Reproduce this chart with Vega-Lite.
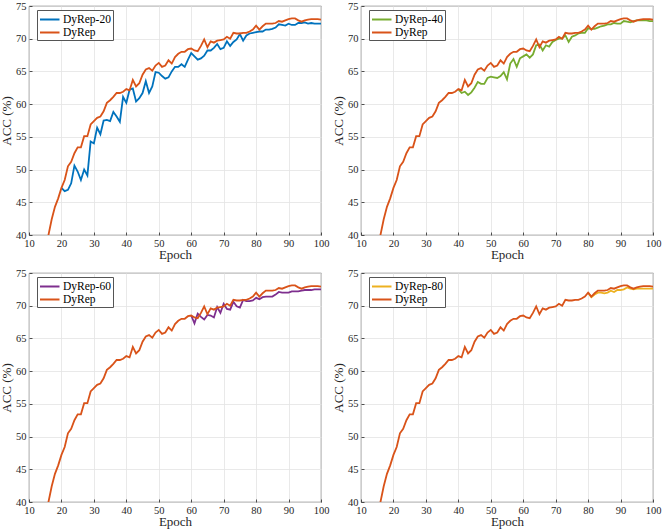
{
  "$schema": "https://vega.github.io/schema/vega-lite/v6.json",
  "padding": {"left": 0, "top": 0, "right": 0, "bottom": 0},
  "datasets": {
    "acc": [
      {"epoch": 15, "acc": 37.6, "series": "DyRep"}, {"epoch": 16, "acc": 40.0, "series": "DyRep"},
      {"epoch": 17, "acc": 42.4, "series": "DyRep"}, {"epoch": 18, "acc": 44.3, "series": "DyRep"},
      {"epoch": 19, "acc": 45.6, "series": "DyRep"}, {"epoch": 20, "acc": 47.2, "series": "DyRep"},
      {"epoch": 21, "acc": 48.4, "series": "DyRep"}, {"epoch": 22, "acc": 50.5, "series": "DyRep"},
      {"epoch": 23, "acc": 51.2, "series": "DyRep"}, {"epoch": 24, "acc": 52.5, "series": "DyRep"},
      {"epoch": 25, "acc": 53.4, "series": "DyRep"}, {"epoch": 26, "acc": 53.4, "series": "DyRep"},
      {"epoch": 27, "acc": 55.1, "series": "DyRep"}, {"epoch": 28, "acc": 55.1, "series": "DyRep"},
      {"epoch": 29, "acc": 56.9, "series": "DyRep"}, {"epoch": 30, "acc": 57.4, "series": "DyRep"},
      {"epoch": 31, "acc": 57.9, "series": "DyRep"}, {"epoch": 32, "acc": 58.1, "series": "DyRep"},
      {"epoch": 33, "acc": 58.9, "series": "DyRep"}, {"epoch": 34, "acc": 60.2, "series": "DyRep"},
      {"epoch": 35, "acc": 60.6, "series": "DyRep"}, {"epoch": 36, "acc": 61.1, "series": "DyRep"},
      {"epoch": 37, "acc": 61.7, "series": "DyRep"}, {"epoch": 38, "acc": 61.7, "series": "DyRep"},
      {"epoch": 39, "acc": 61.9, "series": "DyRep"}, {"epoch": 40, "acc": 62.3, "series": "DyRep"},
      {"epoch": 41, "acc": 62.1, "series": "DyRep"}, {"epoch": 42, "acc": 63.7, "series": "DyRep"},
      {"epoch": 43, "acc": 62.7, "series": "DyRep"}, {"epoch": 44, "acc": 63.2, "series": "DyRep"},
      {"epoch": 45, "acc": 64.5, "series": "DyRep"}, {"epoch": 46, "acc": 65.3, "series": "DyRep"},
      {"epoch": 47, "acc": 65.5, "series": "DyRep"}, {"epoch": 48, "acc": 65.1, "series": "DyRep"},
      {"epoch": 49, "acc": 65.9, "series": "DyRep"}, {"epoch": 50, "acc": 66.3, "series": "DyRep"},
      {"epoch": 51, "acc": 65.7, "series": "DyRep"}, {"epoch": 52, "acc": 65.9, "series": "DyRep"},
      {"epoch": 53, "acc": 66.7, "series": "DyRep"}, {"epoch": 54, "acc": 66.2, "series": "DyRep"},
      {"epoch": 55, "acc": 67.2, "series": "DyRep"}, {"epoch": 56, "acc": 67.7, "series": "DyRep"},
      {"epoch": 57, "acc": 68.0, "series": "DyRep"}, {"epoch": 58, "acc": 68.0, "series": "DyRep"},
      {"epoch": 59, "acc": 68.4, "series": "DyRep"}, {"epoch": 60, "acc": 68.5, "series": "DyRep"},
      {"epoch": 61, "acc": 68.2, "series": "DyRep"}, {"epoch": 62, "acc": 68.1, "series": "DyRep"},
      {"epoch": 63, "acc": 68.9, "series": "DyRep"}, {"epoch": 64, "acc": 69.9, "series": "DyRep"},
      {"epoch": 65, "acc": 68.7, "series": "DyRep"}, {"epoch": 66, "acc": 69.6, "series": "DyRep"},
      {"epoch": 67, "acc": 69.4, "series": "DyRep"}, {"epoch": 68, "acc": 69.7, "series": "DyRep"},
      {"epoch": 69, "acc": 69.8, "series": "DyRep"}, {"epoch": 70, "acc": 69.9, "series": "DyRep"},
      {"epoch": 71, "acc": 70.3, "series": "DyRep"}, {"epoch": 72, "acc": 70.0, "series": "DyRep"},
      {"epoch": 73, "acc": 70.9, "series": "DyRep"}, {"epoch": 74, "acc": 70.8, "series": "DyRep"},
      {"epoch": 75, "acc": 70.8, "series": "DyRep"}, {"epoch": 76, "acc": 70.9, "series": "DyRep"},
      {"epoch": 77, "acc": 70.9, "series": "DyRep"}, {"epoch": 78, "acc": 71.1, "series": "DyRep"},
      {"epoch": 79, "acc": 71.4, "series": "DyRep"}, {"epoch": 80, "acc": 72.0, "series": "DyRep"},
      {"epoch": 81, "acc": 71.4, "series": "DyRep"}, {"epoch": 82, "acc": 71.9, "series": "DyRep"},
      {"epoch": 83, "acc": 72.3, "series": "DyRep"}, {"epoch": 84, "acc": 72.3, "series": "DyRep"},
      {"epoch": 85, "acc": 72.3, "series": "DyRep"}, {"epoch": 86, "acc": 72.4, "series": "DyRep"},
      {"epoch": 87, "acc": 72.7, "series": "DyRep"}, {"epoch": 88, "acc": 72.6, "series": "DyRep"},
      {"epoch": 89, "acc": 72.8, "series": "DyRep"}, {"epoch": 90, "acc": 73.0, "series": "DyRep"},
      {"epoch": 91, "acc": 73.1, "series": "DyRep"}, {"epoch": 92, "acc": 73.1, "series": "DyRep"},
      {"epoch": 93, "acc": 72.8, "series": "DyRep"}, {"epoch": 94, "acc": 72.6, "series": "DyRep"},
      {"epoch": 95, "acc": 72.8, "series": "DyRep"}, {"epoch": 96, "acc": 72.9, "series": "DyRep"},
      {"epoch": 97, "acc": 73.0, "series": "DyRep"}, {"epoch": 98, "acc": 73.0, "series": "DyRep"},
      {"epoch": 99, "acc": 73.0, "series": "DyRep"}, {"epoch": 100, "acc": 72.9, "series": "DyRep"},

      {"epoch": 20, "acc": 47.2, "series": "DyRep-20"}, {"epoch": 21, "acc": 46.7, "series": "DyRep-20"},
      {"epoch": 22, "acc": 46.9, "series": "DyRep-20"}, {"epoch": 23, "acc": 47.9, "series": "DyRep-20"},
      {"epoch": 24, "acc": 50.6, "series": "DyRep-20"}, {"epoch": 25, "acc": 49.7, "series": "DyRep-20"},
      {"epoch": 26, "acc": 48.4, "series": "DyRep-20"}, {"epoch": 27, "acc": 50.0, "series": "DyRep-20"},
      {"epoch": 28, "acc": 49.1, "series": "DyRep-20"}, {"epoch": 29, "acc": 54.3, "series": "DyRep-20"},
      {"epoch": 30, "acc": 54.0, "series": "DyRep-20"}, {"epoch": 31, "acc": 56.4, "series": "DyRep-20"},
      {"epoch": 32, "acc": 55.4, "series": "DyRep-20"}, {"epoch": 33, "acc": 57.5, "series": "DyRep-20"},
      {"epoch": 34, "acc": 57.6, "series": "DyRep-20"}, {"epoch": 35, "acc": 57.4, "series": "DyRep-20"},
      {"epoch": 36, "acc": 58.8, "series": "DyRep-20"}, {"epoch": 37, "acc": 58.1, "series": "DyRep-20"},
      {"epoch": 38, "acc": 57.3, "series": "DyRep-20"}, {"epoch": 39, "acc": 61.1, "series": "DyRep-20"},
      {"epoch": 40, "acc": 60.2, "series": "DyRep-20"}, {"epoch": 41, "acc": 62.2, "series": "DyRep-20"},
      {"epoch": 42, "acc": 62.4, "series": "DyRep-20"}, {"epoch": 43, "acc": 60.4, "series": "DyRep-20"},
      {"epoch": 44, "acc": 60.9, "series": "DyRep-20"}, {"epoch": 45, "acc": 61.7, "series": "DyRep-20"},
      {"epoch": 46, "acc": 63.5, "series": "DyRep-20"}, {"epoch": 47, "acc": 61.7, "series": "DyRep-20"},
      {"epoch": 48, "acc": 62.7, "series": "DyRep-20"}, {"epoch": 49, "acc": 64.9, "series": "DyRep-20"},
      {"epoch": 50, "acc": 64.8, "series": "DyRep-20"}, {"epoch": 51, "acc": 64.3, "series": "DyRep-20"},
      {"epoch": 52, "acc": 63.9, "series": "DyRep-20"}, {"epoch": 53, "acc": 64.1, "series": "DyRep-20"},
      {"epoch": 54, "acc": 65.0, "series": "DyRep-20"}, {"epoch": 55, "acc": 65.7, "series": "DyRep-20"},
      {"epoch": 56, "acc": 65.7, "series": "DyRep-20"}, {"epoch": 57, "acc": 66.1, "series": "DyRep-20"},
      {"epoch": 58, "acc": 65.7, "series": "DyRep-20"}, {"epoch": 59, "acc": 66.8, "series": "DyRep-20"},
      {"epoch": 60, "acc": 67.8, "series": "DyRep-20"}, {"epoch": 61, "acc": 67.3, "series": "DyRep-20"},
      {"epoch": 62, "acc": 66.8, "series": "DyRep-20"}, {"epoch": 63, "acc": 67.0, "series": "DyRep-20"},
      {"epoch": 64, "acc": 67.4, "series": "DyRep-20"}, {"epoch": 65, "acc": 68.2, "series": "DyRep-20"},
      {"epoch": 66, "acc": 68.2, "series": "DyRep-20"}, {"epoch": 67, "acc": 68.6, "series": "DyRep-20"},
      {"epoch": 68, "acc": 69.2, "series": "DyRep-20"}, {"epoch": 69, "acc": 68.4, "series": "DyRep-20"},
      {"epoch": 70, "acc": 68.6, "series": "DyRep-20"}, {"epoch": 71, "acc": 69.6, "series": "DyRep-20"},
      {"epoch": 72, "acc": 68.9, "series": "DyRep-20"}, {"epoch": 73, "acc": 69.5, "series": "DyRep-20"},
      {"epoch": 74, "acc": 69.9, "series": "DyRep-20"}, {"epoch": 75, "acc": 70.7, "series": "DyRep-20"},
      {"epoch": 76, "acc": 69.7, "series": "DyRep-20"}, {"epoch": 77, "acc": 70.5, "series": "DyRep-20"},
      {"epoch": 78, "acc": 70.8, "series": "DyRep-20"}, {"epoch": 79, "acc": 70.9, "series": "DyRep-20"},
      {"epoch": 80, "acc": 71.0, "series": "DyRep-20"}, {"epoch": 81, "acc": 71.1, "series": "DyRep-20"},
      {"epoch": 82, "acc": 71.1, "series": "DyRep-20"}, {"epoch": 83, "acc": 71.4, "series": "DyRep-20"},
      {"epoch": 84, "acc": 71.4, "series": "DyRep-20"}, {"epoch": 85, "acc": 71.5, "series": "DyRep-20"},
      {"epoch": 86, "acc": 71.7, "series": "DyRep-20"}, {"epoch": 87, "acc": 72.2, "series": "DyRep-20"},
      {"epoch": 88, "acc": 72.1, "series": "DyRep-20"}, {"epoch": 89, "acc": 72.0, "series": "DyRep-20"},
      {"epoch": 90, "acc": 72.3, "series": "DyRep-20"}, {"epoch": 91, "acc": 72.1, "series": "DyRep-20"},
      {"epoch": 92, "acc": 72.1, "series": "DyRep-20"}, {"epoch": 93, "acc": 72.4, "series": "DyRep-20"},
      {"epoch": 94, "acc": 72.4, "series": "DyRep-20"}, {"epoch": 95, "acc": 72.5, "series": "DyRep-20"},
      {"epoch": 96, "acc": 72.3, "series": "DyRep-20"}, {"epoch": 97, "acc": 72.4, "series": "DyRep-20"},
      {"epoch": 98, "acc": 72.3, "series": "DyRep-20"}, {"epoch": 99, "acc": 72.3, "series": "DyRep-20"},
      {"epoch": 100, "acc": 72.3, "series": "DyRep-20"},

      {"epoch": 40, "acc": 62.3, "series": "DyRep-40"}, {"epoch": 41, "acc": 61.7, "series": "DyRep-40"},
      {"epoch": 42, "acc": 61.9, "series": "DyRep-40"}, {"epoch": 43, "acc": 61.4, "series": "DyRep-40"},
      {"epoch": 44, "acc": 61.8, "series": "DyRep-40"}, {"epoch": 45, "acc": 62.5, "series": "DyRep-40"},
      {"epoch": 46, "acc": 63.4, "series": "DyRep-40"}, {"epoch": 47, "acc": 63.1, "series": "DyRep-40"},
      {"epoch": 48, "acc": 63.1, "series": "DyRep-40"}, {"epoch": 49, "acc": 64.0, "series": "DyRep-40"},
      {"epoch": 50, "acc": 64.2, "series": "DyRep-40"}, {"epoch": 51, "acc": 64.1, "series": "DyRep-40"},
      {"epoch": 52, "acc": 64.0, "series": "DyRep-40"}, {"epoch": 53, "acc": 64.3, "series": "DyRep-40"},
      {"epoch": 54, "acc": 64.9, "series": "DyRep-40"}, {"epoch": 55, "acc": 63.8, "series": "DyRep-40"},
      {"epoch": 56, "acc": 66.2, "series": "DyRep-40"}, {"epoch": 57, "acc": 66.9, "series": "DyRep-40"},
      {"epoch": 58, "acc": 65.7, "series": "DyRep-40"}, {"epoch": 59, "acc": 67.0, "series": "DyRep-40"},
      {"epoch": 60, "acc": 67.3, "series": "DyRep-40"}, {"epoch": 61, "acc": 67.6, "series": "DyRep-40"},
      {"epoch": 62, "acc": 67.1, "series": "DyRep-40"}, {"epoch": 63, "acc": 67.6, "series": "DyRep-40"},
      {"epoch": 64, "acc": 69.0, "series": "DyRep-40"}, {"epoch": 65, "acc": 69.1, "series": "DyRep-40"},
      {"epoch": 66, "acc": 68.2, "series": "DyRep-40"}, {"epoch": 67, "acc": 69.0, "series": "DyRep-40"},
      {"epoch": 68, "acc": 68.8, "series": "DyRep-40"}, {"epoch": 69, "acc": 69.5, "series": "DyRep-40"},
      {"epoch": 70, "acc": 69.8, "series": "DyRep-40"}, {"epoch": 71, "acc": 70.0, "series": "DyRep-40"},
      {"epoch": 72, "acc": 70.0, "series": "DyRep-40"}, {"epoch": 73, "acc": 70.5, "series": "DyRep-40"},
      {"epoch": 74, "acc": 69.5, "series": "DyRep-40"}, {"epoch": 75, "acc": 70.3, "series": "DyRep-40"},
      {"epoch": 76, "acc": 70.5, "series": "DyRep-40"}, {"epoch": 77, "acc": 70.8, "series": "DyRep-40"},
      {"epoch": 78, "acc": 70.9, "series": "DyRep-40"}, {"epoch": 79, "acc": 70.9, "series": "DyRep-40"},
      {"epoch": 80, "acc": 71.6, "series": "DyRep-40"}, {"epoch": 81, "acc": 71.5, "series": "DyRep-40"},
      {"epoch": 82, "acc": 71.5, "series": "DyRep-40"}, {"epoch": 83, "acc": 71.7, "series": "DyRep-40"},
      {"epoch": 84, "acc": 71.9, "series": "DyRep-40"}, {"epoch": 85, "acc": 72.0, "series": "DyRep-40"},
      {"epoch": 86, "acc": 72.2, "series": "DyRep-40"}, {"epoch": 87, "acc": 72.2, "series": "DyRep-40"},
      {"epoch": 88, "acc": 72.4, "series": "DyRep-40"}, {"epoch": 89, "acc": 72.3, "series": "DyRep-40"},
      {"epoch": 90, "acc": 72.3, "series": "DyRep-40"}, {"epoch": 91, "acc": 72.7, "series": "DyRep-40"},
      {"epoch": 92, "acc": 72.6, "series": "DyRep-40"}, {"epoch": 93, "acc": 72.5, "series": "DyRep-40"},
      {"epoch": 94, "acc": 72.7, "series": "DyRep-40"}, {"epoch": 95, "acc": 72.8, "series": "DyRep-40"},
      {"epoch": 96, "acc": 72.8, "series": "DyRep-40"}, {"epoch": 97, "acc": 72.8, "series": "DyRep-40"},
      {"epoch": 98, "acc": 72.8, "series": "DyRep-40"}, {"epoch": 99, "acc": 72.7, "series": "DyRep-40"},
      {"epoch": 100, "acc": 72.7, "series": "DyRep-40"},

      {"epoch": 60, "acc": 68.5, "series": "DyRep-60"}, {"epoch": 61, "acc": 67.3, "series": "DyRep-60"},
      {"epoch": 62, "acc": 68.8, "series": "DyRep-60"}, {"epoch": 63, "acc": 68.3, "series": "DyRep-60"},
      {"epoch": 64, "acc": 67.9, "series": "DyRep-60"}, {"epoch": 65, "acc": 68.6, "series": "DyRep-60"},
      {"epoch": 66, "acc": 68.5, "series": "DyRep-60"}, {"epoch": 67, "acc": 68.2, "series": "DyRep-60"},
      {"epoch": 68, "acc": 69.8, "series": "DyRep-60"}, {"epoch": 69, "acc": 68.9, "series": "DyRep-60"},
      {"epoch": 70, "acc": 70.3, "series": "DyRep-60"}, {"epoch": 71, "acc": 69.5, "series": "DyRep-60"},
      {"epoch": 72, "acc": 69.4, "series": "DyRep-60"}, {"epoch": 73, "acc": 70.6, "series": "DyRep-60"},
      {"epoch": 74, "acc": 69.9, "series": "DyRep-60"}, {"epoch": 75, "acc": 69.7, "series": "DyRep-60"},
      {"epoch": 76, "acc": 70.9, "series": "DyRep-60"}, {"epoch": 77, "acc": 70.7, "series": "DyRep-60"},
      {"epoch": 78, "acc": 70.7, "series": "DyRep-60"}, {"epoch": 79, "acc": 70.8, "series": "DyRep-60"},
      {"epoch": 80, "acc": 71.2, "series": "DyRep-60"}, {"epoch": 81, "acc": 71.0, "series": "DyRep-60"},
      {"epoch": 82, "acc": 71.3, "series": "DyRep-60"}, {"epoch": 83, "acc": 71.4, "series": "DyRep-60"},
      {"epoch": 84, "acc": 71.4, "series": "DyRep-60"}, {"epoch": 85, "acc": 71.4, "series": "DyRep-60"},
      {"epoch": 86, "acc": 71.7, "series": "DyRep-60"}, {"epoch": 87, "acc": 72.1, "series": "DyRep-60"},
      {"epoch": 88, "acc": 72.0, "series": "DyRep-60"}, {"epoch": 89, "acc": 72.0, "series": "DyRep-60"},
      {"epoch": 90, "acc": 72.0, "series": "DyRep-60"}, {"epoch": 91, "acc": 72.2, "series": "DyRep-60"},
      {"epoch": 92, "acc": 72.2, "series": "DyRep-60"}, {"epoch": 93, "acc": 72.2, "series": "DyRep-60"},
      {"epoch": 94, "acc": 72.3, "series": "DyRep-60"}, {"epoch": 95, "acc": 72.4, "series": "DyRep-60"},
      {"epoch": 96, "acc": 72.4, "series": "DyRep-60"}, {"epoch": 97, "acc": 72.4, "series": "DyRep-60"},
      {"epoch": 98, "acc": 72.5, "series": "DyRep-60"}, {"epoch": 99, "acc": 72.5, "series": "DyRep-60"},
      {"epoch": 100, "acc": 72.5, "series": "DyRep-60"},

      {"epoch": 80, "acc": 72.0, "series": "DyRep-80"}, {"epoch": 81, "acc": 71.3, "series": "DyRep-80"},
      {"epoch": 82, "acc": 71.7, "series": "DyRep-80"}, {"epoch": 83, "acc": 72.0, "series": "DyRep-80"},
      {"epoch": 84, "acc": 72.0, "series": "DyRep-80"}, {"epoch": 85, "acc": 71.9, "series": "DyRep-80"},
      {"epoch": 86, "acc": 72.0, "series": "DyRep-80"}, {"epoch": 87, "acc": 72.3, "series": "DyRep-80"},
      {"epoch": 88, "acc": 72.1, "series": "DyRep-80"}, {"epoch": 89, "acc": 72.4, "series": "DyRep-80"},
      {"epoch": 90, "acc": 72.4, "series": "DyRep-80"}, {"epoch": 91, "acc": 72.5, "series": "DyRep-80"},
      {"epoch": 92, "acc": 72.8, "series": "DyRep-80"}, {"epoch": 93, "acc": 72.6, "series": "DyRep-80"},
      {"epoch": 94, "acc": 72.5, "series": "DyRep-80"}, {"epoch": 95, "acc": 72.6, "series": "DyRep-80"},
      {"epoch": 96, "acc": 72.6, "series": "DyRep-80"}, {"epoch": 97, "acc": 72.6, "series": "DyRep-80"},
      {"epoch": 98, "acc": 72.6, "series": "DyRep-80"}, {"epoch": 99, "acc": 72.6, "series": "DyRep-80"},
      {"epoch": 100, "acc": 72.6, "series": "DyRep-80"}
    ]
  },
  "data": {"name": "acc"},
  "columns": 2,
  "spacing": {"row": 5, "column": 2},
  "concat": [
    {
      "width": 292, "height": 229,
      "encoding": {
        "x": {"field": "epoch", "type": "quantitative", "title": "Epoch",
              "scale": {"domain": [10, 100], "nice": false},
              "axis": {"values": [10, 20, 30, 40, 50, 60, 70, 80, 90, 100]}},
        "y": {"field": "acc", "type": "quantitative", "title": "ACC (%)",
              "scale": {"domain": [40, 75], "nice": false},
              "axis": {"values": [40, 45, 50, 55, 60, 65, 70, 75]}},
        "color": {"field": "series", "type": "nominal",
                  "scale": {"domain": ["DyRep-20", "DyRep"], "range": ["#0072BD", "#D95319"]},
                  "legend": {"title": null, "orient": "none", "legendX": 8, "legendY": 4}}
      },
      "layer": [
        {"transform": [{"filter": {"field": "series", "equal": "DyRep-20"}}],
         "mark": {"type": "line", "clip": true, "strokeWidth": 1.8}},
        {"transform": [{"filter": {"field": "series", "equal": "DyRep"}}],
         "mark": {"type": "line", "clip": true, "strokeWidth": 1.8}}
      ]
    },
    {
      "width": 292, "height": 229,
      "encoding": {
        "x": {"field": "epoch", "type": "quantitative", "title": "Epoch",
              "scale": {"domain": [10, 100], "nice": false},
              "axis": {"values": [10, 20, 30, 40, 50, 60, 70, 80, 90, 100]}},
        "y": {"field": "acc", "type": "quantitative", "title": "ACC (%)",
              "scale": {"domain": [40, 75], "nice": false},
              "axis": {"values": [40, 45, 50, 55, 60, 65, 70, 75]}},
        "color": {"field": "series", "type": "nominal",
                  "scale": {"domain": ["DyRep-40", "DyRep"], "range": ["#77AC30", "#D95319"]},
                  "legend": {"title": null, "orient": "none", "legendX": 8, "legendY": 4}}
      },
      "layer": [
        {"transform": [{"filter": {"field": "series", "equal": "DyRep-40"}}],
         "mark": {"type": "line", "clip": true, "strokeWidth": 1.8}},
        {"transform": [{"filter": {"field": "series", "equal": "DyRep"}}],
         "mark": {"type": "line", "clip": true, "strokeWidth": 1.8}}
      ]
    },
    {
      "width": 292, "height": 229,
      "encoding": {
        "x": {"field": "epoch", "type": "quantitative", "title": "Epoch",
              "scale": {"domain": [10, 100], "nice": false},
              "axis": {"values": [10, 20, 30, 40, 50, 60, 70, 80, 90, 100]}},
        "y": {"field": "acc", "type": "quantitative", "title": "ACC (%)",
              "scale": {"domain": [40, 75], "nice": false},
              "axis": {"values": [40, 45, 50, 55, 60, 65, 70, 75]}},
        "color": {"field": "series", "type": "nominal",
                  "scale": {"domain": ["DyRep-60", "DyRep"], "range": ["#7E2F8E", "#D95319"]},
                  "legend": {"title": null, "orient": "none", "legendX": 8, "legendY": 4}}
      },
      "layer": [
        {"transform": [{"filter": {"field": "series", "equal": "DyRep-60"}}],
         "mark": {"type": "line", "clip": true, "strokeWidth": 1.8}},
        {"transform": [{"filter": {"field": "series", "equal": "DyRep"}}],
         "mark": {"type": "line", "clip": true, "strokeWidth": 1.8}}
      ]
    },
    {
      "width": 292, "height": 229,
      "encoding": {
        "x": {"field": "epoch", "type": "quantitative", "title": "Epoch",
              "scale": {"domain": [10, 100], "nice": false},
              "axis": {"values": [10, 20, 30, 40, 50, 60, 70, 80, 90, 100]}},
        "y": {"field": "acc", "type": "quantitative", "title": "ACC (%)",
              "scale": {"domain": [40, 75], "nice": false},
              "axis": {"values": [40, 45, 50, 55, 60, 65, 70, 75]}},
        "color": {"field": "series", "type": "nominal",
                  "scale": {"domain": ["DyRep-80", "DyRep"], "range": ["#EDB120", "#D95319"]},
                  "legend": {"title": null, "orient": "none", "legendX": 8, "legendY": 4}}
      },
      "layer": [
        {"transform": [{"filter": {"field": "series", "equal": "DyRep-80"}}],
         "mark": {"type": "line", "clip": true, "strokeWidth": 1.8}},
        {"transform": [{"filter": {"field": "series", "equal": "DyRep"}}],
         "mark": {"type": "line", "clip": true, "strokeWidth": 1.8}}
      ]
    }
  ],
  "resolve": {"scale": {"color": "independent"}, "legend": {"color": "independent"}},
  "config": {
    "font": "Liberation Serif",
    "view": {"stroke": "#262626", "strokeWidth": 0.8},
    "axis": {
      "domain": false,
      "grid": true,
      "gridColor": "#e3e3e3",
      "gridWidth": 0.8,
      "ticks": true,
      "tickColor": "#262626",
      "tickSize": -3,
      "tickWidth": 0.8,
      "labelFont": "Liberation Serif",
      "labelFontSize": 10.5,
      "labelColor": "#262626",
      "labelFlush": false,
      "titleFont": "Liberation Serif",
      "titleFontSize": 13,
      "titleFontWeight": "normal",
      "titleColor": "#262626"
    },
    "axisX": {"labelPadding": 6, "titlePadding": 0},
    "axisY": {"labelPadding": 6, "titlePadding": 2},
    "legend": {
      "fillColor": "white",
      "strokeColor": "#555555",
      "padding": 2,
      "rowPadding": 0,
      "symbolType": "M-1,0H2",
      "symbolSize": 169,
      "symbolStrokeWidth": 2,
      "labelFont": "Liberation Serif",
      "labelFontSize": 11.5,
      "labelColor": "#000000",
      "labelOffset": 9
    }
  }
}
